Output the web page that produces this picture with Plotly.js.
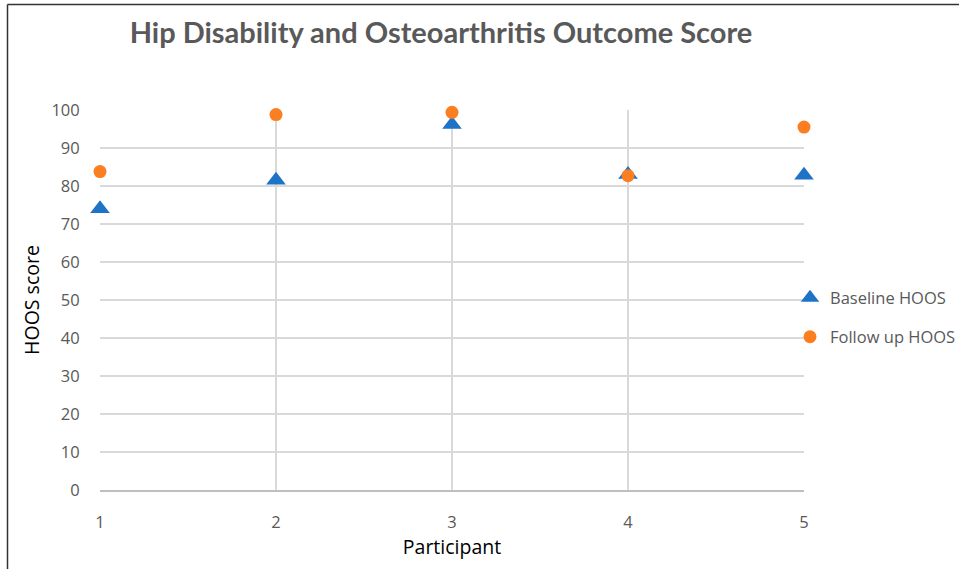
<!DOCTYPE html>
<html>
<head>
<meta charset="utf-8">
<script src="https://cdn.plot.ly/plotly-3.0.1.min.js"></script>
<style>html,body{margin:0;padding:0;background:#fff;}#chart{width:959px;height:569px;}</style>
</head>
<body>
<div id="chart"></div>
<script>
const participants = [1, 2, 3, 4, 5];
const baselineHOOS = [74, 81.5, 96.2, 83, 82.8];
const followUpHOOS = [83.8, 98.8, 99.4, 82.7, 95.5];
const yTicks = [0, 10, 20, 30, 40, 50, 60, 70, 80, 90, 100];

const W = 959, H = 569, L = 100, R = 155, T = 110, B = 79;
const pw = W - L - R, ph = H - T - B;
const px = v => (v - L) / pw;
const py = v => (H - B - v) / ph;
const FONT = '"Open Sans", sans-serif';

const traces = [
  {x: participants, y: baselineHOOS, name: 'Baseline HOOS', type: 'scatter', mode: 'markers', showlegend: true,
   marker: {symbol: 'triangle-up', size: 17, color: '#1f73c7'}, cliponaxis: false, legend: 'legend'},
  {x: participants, y: followUpHOOS, name: 'Follow up HOOS', type: 'scatter', mode: 'markers', showlegend: true,
   marker: {symbol: 'circle', size: 13, color: '#fb7e21'}, cliponaxis: false, legend: 'legend2'}
];

const legendBase = {xanchor: 'left', yanchor: 'middle', bgcolor: 'rgba(0,0,0,0)',
  font: {size: 16.5, color: '#595959', family: FONT}, itemsizing: 'trace', itemwidth: 30, visible: true};

const layout = {
  width: W, height: H,
  showlegend: true,
  margin: {l: L, r: R, t: T, b: B, pad: 0, autoexpand: false},
  paper_bgcolor: '#fff', plot_bgcolor: '#fff',
  font: {family: FONT, color: '#595959', size: 16.5},
  title: {text: '<b>Hip Disability and Osteoarthritis Outcome Score</b>',
          font: {size: 29, color: '#595959', family: 'Lato, "Open Sans", sans-serif'},
          x: 441 / W, xanchor: 'center', y: 1 - 33 / H, yanchor: 'middle'},
  xaxis: {range: [1, 5], tickvals: participants, ticktext: participants.map(String),
          showgrid: true, gridcolor: '#d9d9d9', gridwidth: 1.2, zeroline: false,
          showline: true, linecolor: '#bfbfbf', linewidth: 1.5, ticks: 'outside', ticklen: 17, tickcolor: 'rgba(0,0,0,0)',
          tickfont: {size: 16.5, color: '#595959', family: FONT},
          title: {text: 'Participant', font: {size: 19.5, color: '#000', family: FONT}, standoff: 0}},
  yaxis: {range: [0, 100], tickvals: yTicks, showgrid: true, gridcolor: '#d9d9d9', gridwidth: 1.2,
          zeroline: false, showline: false, ticks: 'outside', ticklen: 16, tickcolor: 'rgba(0,0,0,0)',
          tickfont: {size: 16.5, color: '#595959', family: FONT},
          title: {text: 'HOOS score', font: {size: 19.5, color: '#000', family: FONT}, standoff: 6}},
  legend: Object.assign({x: px(790), y: py(298)}, legendBase),
  legend2: Object.assign({x: px(790), y: py(337)}, legendBase),
  shapes: [
    {type: 'line', xref: 'paper', yref: 'paper', x0: px(7.5), x1: px(7.5), y0: py(4.5), y1: py(580), line: {color: '#333', width: 1.5}},
    {type: 'line', xref: 'paper', yref: 'paper', x0: px(7.5), x1: px(970), y0: py(4.5), y1: py(4.5), line: {color: '#333', width: 1.5}}
  ]
};
Plotly.newPlot('chart', traces, layout, {displayModeBar: false, staticPlot: true});
</script>
</body>
</html>
